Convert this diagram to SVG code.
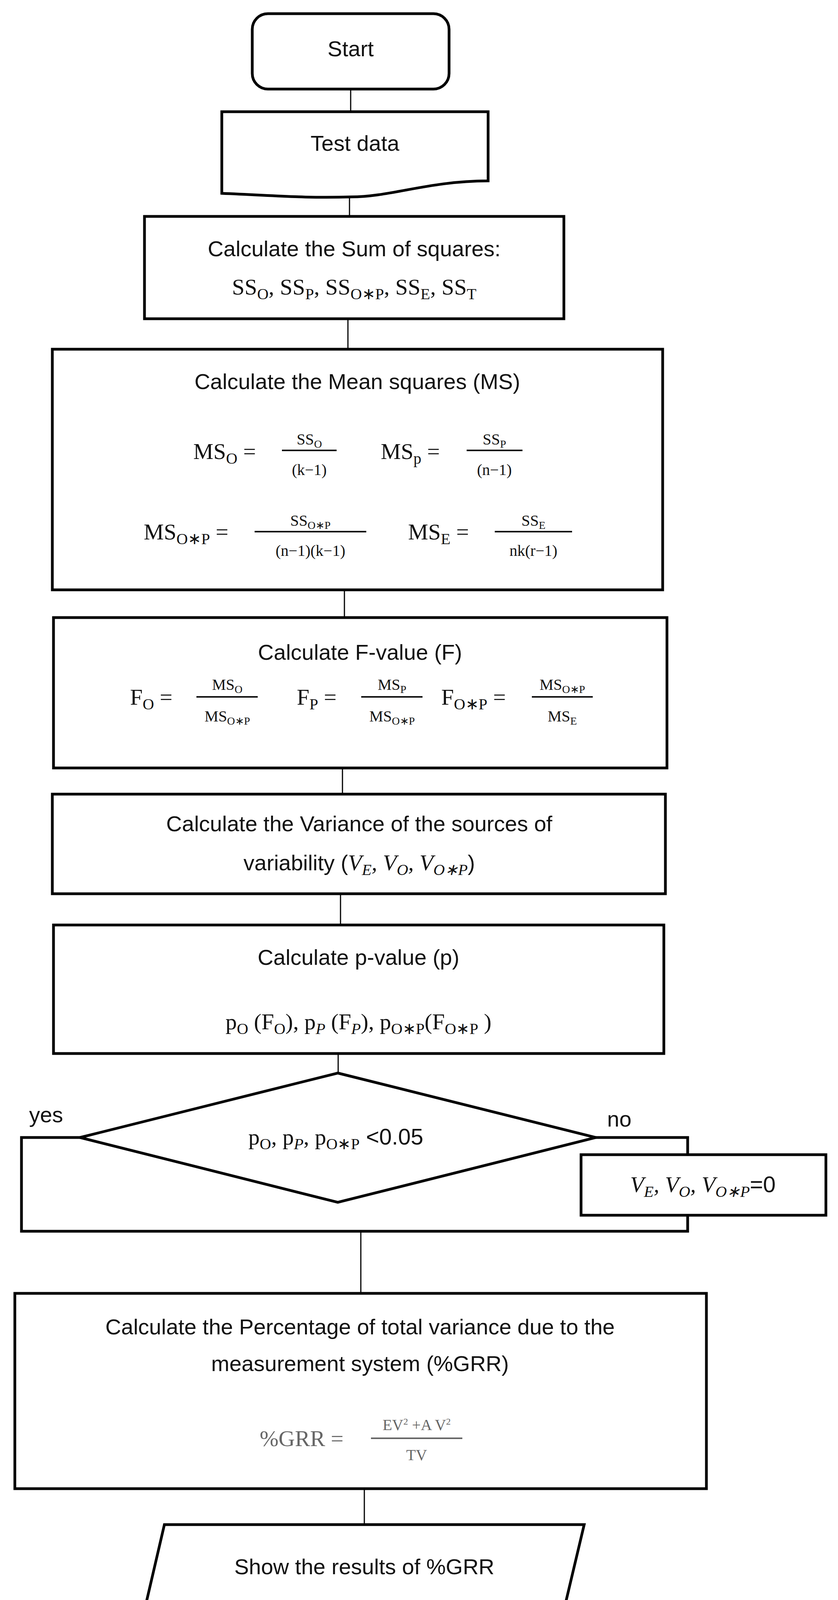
<svg xmlns="http://www.w3.org/2000/svg" width="2146" height="4371" viewBox="0 0 2146 4371">
<style>
.n{fill:#fff;stroke:#000;stroke-width:7}
.c{fill:none;stroke:#000;stroke-width:3}
.t{font-family:"Liberation Sans",Arial,sans-serif;font-size:56px;fill:#111;text-anchor:middle}
.m{font-family:"Liberation Serif","Times New Roman",serif;font-size:58px;fill:#111}
.f{font-family:"Liberation Serif","Times New Roman",serif;font-size:40px;fill:#111;text-anchor:middle}
.s{font-size:70%}
.bar{stroke:#111;stroke-width:4}
</style>
<rect width="2146" height="4371" fill="#fff"/>
<g id="connectors">
<path class="c" d="M898 228V286M895 498V554M891 816V894M882 1510V1581M877 1966V2033M872 2288V2368M866 2697V2747"/>
<path class="n" style="fill:none" d="M205 2912H55V3152H1761V3111M1526 2912H1761V2956"/>
<path class="c" d="M924 3152V3311M933 3811V3903M937 4122V4201"/>
</g>
<g id="start"><rect class="n" x="646" y="35" width="504" height="193" rx="40"/><text class="t" x="898" y="144">Start</text></g>
<g id="testdata"><path class="n" d="M568 286H1250V463C1100 463 1000 504 900 504C780 508 700 500 568 495Z"/><text class="t" x="909" y="386">Test data</text></g>
<g id="ss"><rect class="n" x="370" y="554" width="1074" height="262"/>
<text class="t" x="907" y="656">Calculate the Sum of squares:</text>
<text class="m" x="907" y="754" text-anchor="middle">SS<tspan class="s" dy="12">O</tspan><tspan dy="-12">,  SS</tspan><tspan class="s" dy="12">P</tspan><tspan dy="-12">, SS</tspan><tspan class="s" dy="12">O∗P</tspan><tspan dy="-12">, SS</tspan><tspan class="s" dy="12">E</tspan><tspan dy="-12">, SS</tspan><tspan class="s" dy="12">T</tspan></text></g>
<g id="ms"><rect class="n" x="134" y="894" width="1563" height="616"/>
<text class="t" x="915" y="996">Calculate the Mean squares (MS)</text>
<text class="m" x="495" y="1175">MS<tspan class="s" dy="12">O</tspan><tspan dy="-12"> =</tspan></text>
<line class="bar" x1="722" y1="1153" x2="862" y2="1153"/><text class="f" x="792" y="1138">SS<tspan dy="8" font-size="28">O</tspan></text><text class="f" x="792" y="1216">(k−1)</text>
<text class="m" x="975" y="1175">MS<tspan class="s" dy="12">p</tspan><tspan dy="-12"> =</tspan></text>
<line class="bar" x1="1195" y1="1153" x2="1338" y2="1153"/><text class="f" x="1266" y="1138">SS<tspan dy="8" font-size="28">P</tspan></text><text class="f" x="1266" y="1216">(n−1)</text>
<text class="m" x="368" y="1381">MS<tspan class="s" dy="12">O∗P</tspan><tspan dy="-12"> =</tspan></text>
<line class="bar" x1="652" y1="1361" x2="938" y2="1361"/><text class="f" x="795" y="1346">SS<tspan dy="8" font-size="28">O∗P</tspan></text><text class="f" x="795" y="1423">(n−1)(k−1)</text>
<text class="m" x="1045" y="1381">MS<tspan class="s" dy="12">E</tspan><tspan dy="-12"> =</tspan></text>
<line class="bar" x1="1267" y1="1361" x2="1465" y2="1361"/><text class="f" x="1366" y="1346">SS<tspan dy="8" font-size="28">E</tspan></text><text class="f" x="1366" y="1423">nk(r−1)</text></g>
<g id="fvalue"><rect class="n" x="137" y="1581" width="1571" height="385"/>
<text class="t" x="922" y="1689">Calculate F-value (F)</text>
<text class="m" x="333" y="1804">F<tspan class="s" dy="12">O</tspan><tspan dy="-12"> =</tspan></text>
<line class="bar" x1="503" y1="1784" x2="660" y2="1784"/><text class="f" x="582" y="1766">MS<tspan dy="8" font-size="28">O</tspan></text><text class="f" x="582" y="1847">MS<tspan dy="8" font-size="28">O∗P</tspan></text>
<text class="m" x="760" y="1804">F<tspan class="s" dy="12">P</tspan><tspan dy="-12"> =</tspan></text>
<line class="bar" x1="925" y1="1784" x2="1082" y2="1784"/><text class="f" x="1004" y="1766">MS<tspan dy="8" font-size="28">P</tspan></text><text class="f" x="1004" y="1847">MS<tspan dy="8" font-size="28">O∗P</tspan></text>
<text class="m" x="1130" y="1804">F<tspan class="s" dy="12">O∗P</tspan><tspan dy="-12"> =</tspan></text>
<line class="bar" x1="1362" y1="1784" x2="1518" y2="1784"/><text class="f" x="1440" y="1766">MS<tspan dy="8" font-size="28">O∗P</tspan></text><text class="f" x="1440" y="1847">MS<tspan dy="8" font-size="28">E</tspan></text></g>
<g id="variance"><rect class="n" x="134" y="2033" width="1570" height="255"/>
<text class="t" x="920" y="2128">Calculate the Variance of the sources of</text>
<text class="t" x="920" y="2228">variability (<tspan class="m" font-style="italic">V<tspan class="s" dy="12">E</tspan><tspan dy="-12">, V</tspan><tspan class="s" dy="12">O</tspan><tspan dy="-12">, V</tspan><tspan class="s" dy="12">O∗P</tspan></tspan><tspan dy="-12">)</tspan></text></g>
<g id="pvalue"><rect class="n" x="137" y="2368" width="1563" height="329"/>
<text class="t" x="918" y="2470">Calculate p-value (p)</text>
<text class="m" x="918" y="2635" text-anchor="middle">p<tspan class="s" dy="12">O</tspan><tspan dy="-12"> (F</tspan><tspan class="s" dy="12">O</tspan><tspan dy="-12">), p</tspan><tspan class="s" dy="12" font-style="italic">P</tspan><tspan dy="-12"> (F</tspan><tspan class="s" dy="12" font-style="italic">P</tspan><tspan dy="-12">),  p</tspan><tspan class="s" dy="12">O∗P</tspan><tspan dy="-12">(F</tspan><tspan class="s" dy="12">O∗P</tspan><tspan dy="-12"> )</tspan></text></g>
<g id="decision"><path class="n" d="M865 2747L1526 2912L865 3078L205 2912Z"/>
<text class="m" x="860" y="2930" text-anchor="middle">p<tspan class="s" dy="12">O</tspan><tspan dy="-12">, p</tspan><tspan class="s" dy="12" font-style="italic">P</tspan><tspan dy="-12">, p</tspan><tspan class="s" dy="12">O∗P</tspan><tspan dy="-12" font-family="Liberation Sans,sans-serif"> &lt;0.05</tspan></text>
<text class="t" x="118" y="2873">yes</text><text class="t" x="1586" y="2884">no</text></g>
<g id="zero"><rect class="n" x="1488" y="2956" width="627" height="155"/>
<text class="m" x="1800" y="3052" text-anchor="middle" font-style="italic">V<tspan class="s" dy="12">E</tspan><tspan dy="-12">, V</tspan><tspan class="s" dy="12">O</tspan><tspan dy="-12">, V</tspan><tspan class="s" dy="12">O∗P</tspan><tspan dy="-12" font-style="normal" font-family="Liberation Sans,sans-serif">=0</tspan></text></g>
<g id="grr"><rect class="n" x="38" y="3311" width="1771" height="500"/>
<text class="t" x="922" y="3416">Calculate the Percentage of total variance due to the</text>
<text class="t" x="922" y="3510">measurement system (%GRR)</text>
<text class="m" x="665" y="3702" fill="#666" style="fill:#666">%GRR =</text>
<line x1="950" y1="3682" x2="1184" y2="3682" stroke="#666" stroke-width="4"/>
<text class="f" x="1067" y="3661" style="fill:#666">EV<tspan dy="-14" font-size="24">2</tspan><tspan dy="14"> +A V</tspan><tspan dy="-14" font-size="24">2</tspan></text>
<text class="f" x="1067" y="3738" style="fill:#666">TV</text></g>
<g id="show"><path class="n" d="M421 3903H1496L1444 4122H370Z"/><text class="t" x="933" y="4030">Show the results of %GRR</text></g>
<g id="end"><rect class="n" x="755" y="4201" width="365" height="166" rx="35"/><text class="t" x="938" y="4310">End</text></g>
</svg>
